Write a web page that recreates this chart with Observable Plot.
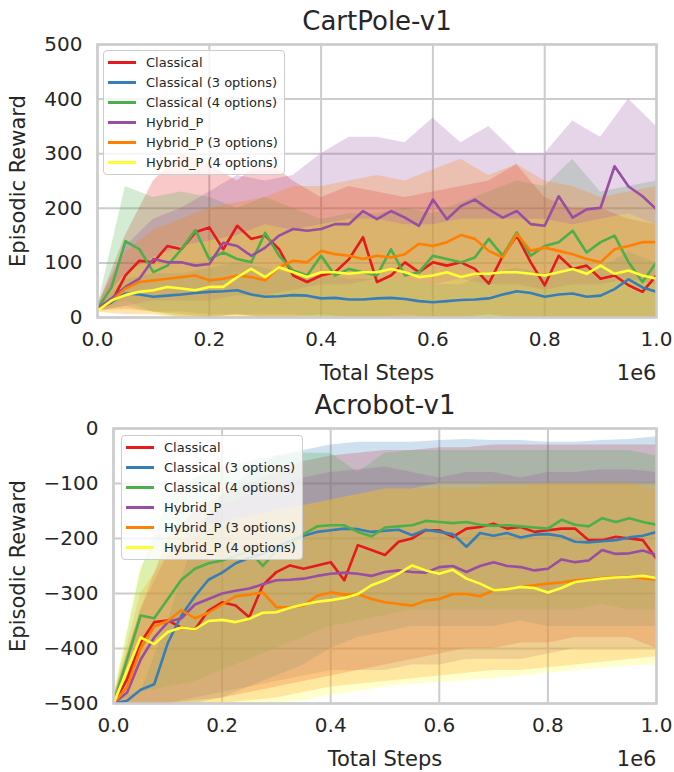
<!DOCTYPE html>
<html>
<head>
<meta charset="utf-8">
<script src="https://cdn.jsdelivr.net/npm/d3@7"></script>
<script src="https://cdn.jsdelivr.net/npm/@observablehq/plot@0.6"></script>
<style>
  html, body { margin: 0; padding: 0; background: #ffffff; }
  #wrap { position: relative; width: 674px; height: 772px; font-family: "DejaVu Sans", sans-serif; }
  .panel { position: absolute; left: 0; }
  .legend { position: absolute; width: 182px; height: 125px; box-sizing: border-box;
            background: rgba(255,255,255,0.8); border: 1px solid #cccccc; border-radius: 4px; }
  .legend .row { position: absolute; left: 0; height: 20px; width: 100%; }
  .legend .sw { position: absolute; left: 4px; top: 8px; width: 28px; height: 3px; }
  .legend .lb { position: absolute; left: 42px; top: 1px; font-size: 13px; line-height: 18px; color: #262626; white-space: nowrap; }
</style>
</head>
<body>
<div id="wrap"></div>
<script>
// ---------------- data ----------------
const seriesNames = ["Classical", "Classical (3 options)", "Classical (4 options)", "Hybrid_P", "Hybrid_P (3 options)", "Hybrid_P (4 options)"];
const seriesColors = ["#e41a1c", "#377eb8", "#4daf4a", "#984ea3", "#ff7f00", "#ffff33"];

// Total steps (in units of 1e6)
const steps = [0, 0.025, 0.05, 0.075, 0.1, 0.125, 0.15, 0.175, 0.2, 0.225, 0.25, 0.275, 0.3, 0.325, 0.35, 0.375, 0.4, 0.425, 0.45, 0.475, 0.5,
               0.525, 0.55, 0.575, 0.6, 0.625, 0.65, 0.675, 0.7, 0.725, 0.75, 0.775, 0.8, 0.825, 0.85, 0.875, 0.9, 0.925, 0.95, 0.975, 1.0];
const bandSteps = [0, 0.05, 0.1, 0.15, 0.2, 0.25, 0.3, 0.35, 0.4, 0.45, 0.5, 0.55, 0.6, 0.65, 0.7, 0.75, 0.8, 0.85, 0.9, 0.95, 1.0];

const xTicks = [0, 0.2, 0.4, 0.6, 0.8, 1.0];
const cartpoleYTicks = [0, 100, 200, 300, 400, 500];
const acrobotYTicks = [-500, -400, -300, -200, -100, 0];

// CartPole-v1 means
const cpClassical  = [16,28,77,104,101,131,125,156,165,125,168,144,150,125,77,65,77,83,107,147,65,77,101,83,101,95,101,89,62,113,150,101,59,113,89,95,71,77,59,47,77];
const cpClassical3 = [15,28,44,42,38,40,42,45,47,48,50,42,38,39,41,40,35,36,33,33,35,36,34,30,28,30,32,33,35,42,48,45,38,42,44,38,40,52,70,55,47];
const cpClassical4 = [16,55,140,125,83,95,125,160,107,119,107,101,155,113,86,77,113,77,89,83,77,125,77,83,113,107,101,110,144,113,156,113,131,138,159,119,138,150,101,65,101];
const cpHybrid     = [16,35,56,71,107,101,101,95,98,137,131,113,128,150,162,159,162,171,171,195,180,195,183,168,216,180,204,216,198,183,195,171,168,222,183,198,201,277,240,222,198];
const cpHybrid3    = [14,30,53,65,68,71,74,77,68,71,77,74,68,92,104,101,122,116,113,107,113,110,116,135,131,138,151,144,122,110,153,122,128,122,116,107,101,125,131,138,138];
const cpHybrid4    = [12,31,41,47,50,56,53,50,56,56,74,89,74,92,83,74,83,83,80,83,83,89,83,74,77,83,74,80,80,83,83,80,77,83,89,80,95,80,86,77,71];

// CartPole-v1 bands (lower / upper)
const cpClassicalLo  = [12,15,10,5,0,5,0,0,5,0,0,0,0,0,5,0,0,0,0,0,0];
const cpClassicalHi  = [20,150,250,300,280,250,290,250,220,240,230,220,230,240,250,280,220,200,200,180,170];
const cpClassical3Lo = [12,20,10,10,5,5,5,5,0,0,0,0,0,0,0,0,0,0,0,0,0];
const cpClassical3Hi = [20,70,80,80,90,100,90,80,80,70,70,70,60,60,80,90,80,90,90,120,100];
const cpClassical4Lo = [12,30,10,0,0,5,0,0,0,0,0,5,0,0,0,0,0,0,0,0,0];
const cpClassical4Hi = [20,240,220,230,220,200,220,200,180,190,190,200,190,210,230,250,240,290,230,240,250];
const cpHybridLo     = [12,20,30,30,30,40,40,50,60,60,70,70,60,70,60,60,50,60,60,70,60];
const cpHybridHi     = [20,130,180,200,230,260,250,260,300,330,330,320,365,320,350,300,300,360,330,400,350];
const cpHybrid3Lo    = [10,5,5,0,0,0,0,0,0,0,0,0,0,0,0,0,0,0,0,0,0];
const cpHybrid3Hi    = [20,120,160,180,200,210,220,240,240,250,260,250,270,290,260,280,250,240,220,230,240];
const cpHybrid4Lo    = [8,10,5,0,0,0,0,0,0,0,0,0,0,0,0,0,0,0,0,0,0];
const cpHybrid4Hi    = [18,80,110,130,140,150,170,160,170,180,180,170,170,180,180,180,180,170,180,190,170];

// Acrobot-v1 means
const acClassical  = [-500,-456,-389,-352,-349,-362,-365,-331,-316,-322,-343,-285,-261,-249,-255,-249,-243,-276,-212,-221,-230,-206,-200,-185,-185,-197,-182,-179,-173,-182,-179,-188,-185,-182,-182,-203,-203,-197,-200,-203,-237];
const acClassical3 = [-500,-495,-475,-465,-390,-340,-305,-275,-262,-245,-235,-228,-215,-205,-195,-188,-185,-182,-183,-188,-186,-184,-194,-184,-188,-192,-215,-190,-195,-190,-198,-193,-192,-196,-206,-207,-205,-203,-198,-195,-188];
const acClassical4 = [-500,-420,-340,-345,-310,-275,-255,-245,-240,-232,-222,-250,-222,-210,-192,-178,-176,-176,-188,-196,-180,-178,-176,-168,-170,-172,-170,-175,-177,-176,-178,-180,-182,-166,-175,-178,-163,-170,-163,-170,-175];
const acHybrid     = [-500,-480,-420,-380,-352,-345,-320,-310,-300,-295,-291,-283,-276,-275,-273,-268,-264,-262,-264,-268,-261,-258,-261,-262,-252,-250,-261,-250,-243,-250,-252,-258,-255,-238,-243,-240,-221,-228,-227,-222,-230];
const acHybrid3    = [-500,-470,-400,-360,-350,-330,-345,-335,-320,-305,-302,-298,-325,-325,-322,-304,-298,-302,-301,-310,-316,-319,-322,-313,-310,-301,-301,-305,-294,-291,-288,-285,-282,-280,-276,-274,-272,-270,-270,-272,-275];
const acHybrid4    = [-500,-440,-380,-392,-370,-362,-365,-350,-348,-352,-346,-335,-334,-326,-320,-315,-312,-308,-301,-285,-276,-264,-249,-258,-264,-257,-273,-282,-294,-292,-288,-290,-298,-290,-279,-276,-273,-271,-270,-268,-272];

// Acrobot-v1 bands (lower / upper)
const acClassicalLo  = [-500,-500,-500,-495,-490,-480,-470,-460,-450,-440,-430,-420,-410,-400,-400,-390,-390,-380,-380,-380,-400];
const acClassicalHi  = [-490,-330,-200,-150,-120,-100,-80,-60,-50,-45,-40,-40,-35,-35,-30,-30,-30,-30,-30,-30,-30];
const acClassical3Lo = [-500,-500,-500,-500,-490,-470,-450,-430,-400,-380,-370,-360,-360,-360,-360,-350,-360,-360,-360,-360,-360];
const acClassical3Hi = [-490,-480,-350,-200,-120,-80,-50,-40,-30,-25,-25,-25,-22,-20,-22,-22,-25,-25,-22,-20,-15];
const acClassical4Lo = [-500,-480,-470,-460,-440,-420,-400,-380,-360,-350,-340,-330,-330,-330,-330,-330,-330,-330,-320,-330,-330];
const acClassical4Hi = [-490,-260,-130,-90,-70,-60,-50,-45,-45,-80,-45,-40,-40,-40,-40,-40,-40,-40,-40,-40,-50];
const acHybridLo     = [-500,-500,-500,-490,-480,-470,-460,-450,-440,-440,-440,-430,-430,-420,-420,-420,-410,-400,-400,-400,-400];
const acHybridHi     = [-490,-330,-230,-180,-140,-120,-100,-90,-80,-75,-70,-80,-90,-80,-80,-90,-80,-80,-75,-75,-80];
const acHybrid3Lo    = [-500,-500,-500,-500,-500,-495,-490,-480,-470,-465,-460,-455,-450,-445,-440,-440,-435,-430,-425,-420,-415];
const acHybrid3Hi    = [-490,-300,-230,-200,-180,-160,-150,-140,-130,-120,-110,-110,-110,-110,-105,-105,-100,-100,-100,-100,-110];
const acHybrid4Lo    = [-500,-500,-500,-500,-500,-500,-500,-495,-485,-478,-470,-465,-462,-458,-455,-450,-445,-440,-436,-432,-430];
const acHybrid4Hi    = [-480,-250,-200,-180,-170,-160,-150,-140,-130,-120,-110,-110,-100,-100,-100,-100,-100,-100,-100,-100,-100];

// ---------------- build ----------------
const cartpole = {
  title: "CartPole-v1", yDomain: [0, 500], yTicks: cartpoleYTicks,
  means: [cpClassical, cpClassical3, cpClassical4, cpHybrid, cpHybrid3, cpHybrid4],
  los: [cpClassicalLo, cpClassical3Lo, cpClassical4Lo, cpHybridLo, cpHybrid3Lo, cpHybrid4Lo],
  his: [cpClassicalHi, cpClassical3Hi, cpClassical4Hi, cpHybridHi, cpHybrid3Hi, cpHybrid4Hi],
  marginLeft: 97, marginTop: 44, frameH: 273, top: 0, legendLeft: 103, legendTop: 50
};
const acrobot = {
  title: "Acrobot-v1", yDomain: [-500, 0], yTicks: acrobotYTicks,
  means: [acClassical, acClassical3, acClassical4, acHybrid, acHybrid3, acHybrid4],
  los: [acClassicalLo, acClassical3Lo, acClassical4Lo, acHybridLo, acHybrid3Lo, acHybrid4Lo],
  his: [acClassicalHi, acClassical3Hi, acClassical4Hi, acHybridHi, acHybrid3Hi, acHybrid4Hi],
  marginLeft: 113, marginTop: 42, frameH: 275, top: 386, legendLeft: 121, legendTop: 435
};

const fmtY = d => d < 0 ? "\u2212" + Math.abs(d) : String(d);
const wrap = document.getElementById("wrap");

function drawPanel(p) {
  const marks = [
    Plot.gridX(xTicks, {stroke: "#cccccc", strokeOpacity: 1, strokeWidth: 2}),
    Plot.gridY(p.yTicks, {stroke: "#cccccc", strokeOpacity: 1, strokeWidth: 2})
  ];
  // bands (below all lines, as in matplotlib zorder)
  seriesNames.forEach((name, k) => {
    const bandData = bandSteps.map((t, i) => ({t, lo: p.los[k][i], hi: p.his[k][i]}));
    marks.push(Plot.areaY(bandData, {x: "t", y1: "lo", y2: "hi", fill: seriesColors[k], fillOpacity: 0.24, clip: true}));
  });
  // mean lines
  seriesNames.forEach((name, k) => {
    const lineData = steps.map((t, i) => ({t, v: p.means[k][i]}));
    marks.push(Plot.lineY(lineData, {x: "t", y: "v", stroke: seriesColors[k], strokeWidth: 2.6, clip: true}));
  });
  marks.push(
    Plot.frame({stroke: "#cccccc", strokeWidth: 2.5}),
    Plot.axisX(xTicks, {tickSize: 0, tickPadding: 14, tickFormat: d => d.toFixed(1), label: null}),
    Plot.axisY(p.yTicks, {tickSize: 0, tickPadding: 15, tickFormat: fmtY, label: null}),
    Plot.text([p.title], {text: d => d, frameAnchor: "top", textAnchor: "middle", dy: -15, lineAnchor: "bottom", fontSize: 26, fill: "#262626"}),
    Plot.text(["Total Steps"], {text: d => d, frameAnchor: "bottom", textAnchor: "middle", dy: 62, lineAnchor: "bottom", fontSize: 21, fill: "#262626"}),
    Plot.text(["1e6"], {text: d => d, frameAnchor: "bottom-right", textAnchor: "end", dx: 0, dy: 62, lineAnchor: "bottom", fontSize: 21, fill: "#262626"}),
    Plot.text(["Episodic Reward"], {text: d => d, frameAnchor: "left", textAnchor: "middle", dx: 18 - p.marginLeft, rotate: -90, lineAnchor: "middle", fontSize: 21, fill: "#262626"})
  );
  const svg = Plot.plot({
    width: 674, height: 386,
    marginLeft: p.marginLeft, marginRight: 18, marginTop: p.marginTop, marginBottom: 386 - p.marginTop - p.frameH,
    x: {domain: [0, 1]},
    y: {domain: p.yDomain},
    style: "font-family: 'DejaVu Sans', sans-serif; font-size: 20px; color: #262626; background: #ffffff; overflow: visible;",
    marks
  });
  const box = document.createElement("div");
  box.className = "panel";
  box.style.top = p.top + "px";
  box.appendChild(svg);
  wrap.appendChild(box);

  const lg = document.createElement("div");
  lg.className = "legend";
  lg.style.left = p.legendLeft + "px";
  lg.style.top = p.legendTop + "px";
  seriesNames.forEach((name, k) => {
    const row = document.createElement("div");
    row.className = "row";
    row.style.top = (2 + 20 * k) + "px";
    const sw = document.createElement("div");
    sw.className = "sw";
    sw.style.background = seriesColors[k];
    const lb = document.createElement("div");
    lb.className = "lb";
    lb.textContent = name;
    row.appendChild(sw);
    row.appendChild(lb);
    lg.appendChild(row);
  });
  wrap.appendChild(lg);
}

drawPanel(cartpole);
drawPanel(acrobot);
</script>
</body>
</html>
